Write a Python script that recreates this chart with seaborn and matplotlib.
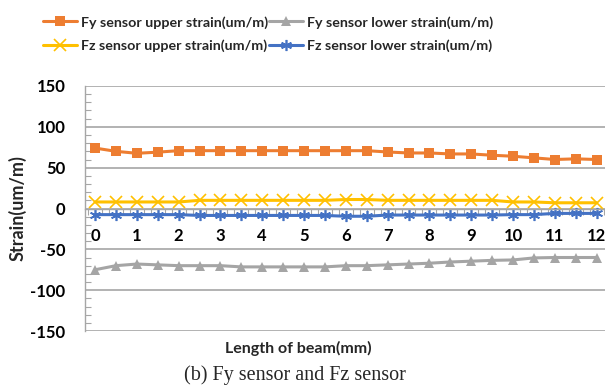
import numpy as np
import pandas as pd
import matplotlib
matplotlib.use("Agg")
import matplotlib.pyplot as plt
import seaborn as sns
from matplotlib.ticker import MultipleLocator

# ---- data ----
positions = [0, 0.5, 1, 1.5, 2, 2.5, 3, 3.5, 4, 4.5, 5, 5.5, 6, 6.5,
             7, 7.5, 8, 8.5, 9, 9.5, 10, 10.5, 11, 11.5, 12]
fy_upper = [74, 70, 67.6, 69, 70.8, 70.8, 70.8, 70.8, 70.8, 70.8, 70.8, 70.8, 70.8, 70.8,
            69.2, 68, 68, 66.8, 66.8, 65.2, 64, 62, 60, 60.8, 60]
fy_lower = [-75, -70, -68, -69, -70, -70, -70, -71.5, -71.5, -71.5, -71.5, -71.5, -70, -70,
            -69, -68, -67, -65.5, -64.5, -63.5, -63, -60.5, -60, -60, -60]
fz_upper = [8, 8, 8, 8, 8, 10, 10, 10, 10, 10, 10, 10, 11, 11,
            10, 10, 10, 10, 10, 10, 8, 8, 7, 7, 7]
fz_lower = [-7.5, -7.5, -7.5, -7.5, -7.5, -8.5, -8.5, -8.5, -8.5, -8.5, -8.5, -8.5, -9.5, -9.5,
            -8, -8, -8, -8, -8, -8, -7.5, -7.5, -6, -6, -6]
series_names = ["Fy sensor upper strain(um/m)", "Fy sensor lower strain(um/m)",
                "Fz sensor upper strain(um/m)", "Fz sensor lower strain(um/m)"]
x_tick_labels = [str(i) for i in range(13)]
y_ticks = [-150, -100, -50, 0, 50, 100, 150]

sns.set_theme(style="white")
plt.rcParams['font.family'] = ['Lato', 'DejaVu Sans']

fig = plt.figure(figsize=(6.05, 3.92), dpi=100)
ax = fig.add_axes([85/605, 1-331/392, 1-85/605, (331-86)/392])

colors = ["#ED7D31", "#A5A5A5", "#FFC000", "#4472C4"]
markers = ["s", "^", "x", (6, 2, 0)]
msizes = [7, 6.5, 8, 8]
all_vals = [fy_upper, fy_lower, fz_upper, fz_lower]
for name, vals, c, m, ms in zip(series_names, all_vals, colors, markers, msizes):
    df = pd.DataFrame({"x": positions, "y": vals})
    sns.lineplot(data=df, x="x", y="y", ax=ax, color=c, marker=m, markersize=ms,
                 markeredgecolor=c, markeredgewidth=1.2 if (m == "x" or isinstance(m, tuple)) else 0,
                 linewidth=2.2, label=name)

ax.set_xlim(-0.24, (605-95)/41.8)
ax.set_ylim(-150, 150)
ax.set_yticks(y_ticks)
ax.set_yticklabels([str(v) for v in y_ticks])
ax.yaxis.set_minor_locator(MultipleLocator(10))
ax.set_xticks(range(13))
ax.set_xticklabels(x_tick_labels)
ax.xaxis.set_minor_locator(MultipleLocator(1/6))

ax.grid(axis="y", which="major", color="#A6A6A6", linewidth=1.2)
ax.set_axisbelow(True)
for s in ["top", "right"]:
    ax.spines[s].set_visible(False)
ax.spines["left"].set_color("#A6A6A6")
ax.spines["left"].set_linewidth(1.0)
ax.spines["bottom"].set_position(("data", 0))
ax.spines["bottom"].set_color("#A6A6A6")
ax.spines["bottom"].set_linewidth(1.0)

ax.tick_params(axis="y", which="major", length=0, pad=14, labelsize=12, labelcolor="black")
ax.tick_params(axis="y", which="minor", left=True, direction="in", length=4, width=0.8, color="#A6A6A6")
ax.tick_params(axis="x", which="major", length=0, pad=14, labelsize=12, labelcolor="black")
ax.tick_params(axis="x", which="minor", bottom=True, direction="out", length=4, width=0.8, color="#A6A6A6")
for lab in ax.get_xticklabels() + ax.get_yticklabels():
    lab.set_fontweight("bold")

ax.set_xlabel("")
ax.set_ylabel("")
fig.text(298/605, 1-348/392, "Length of beam(mm)", ha="center", va="center",
         fontsize=11.5, fontweight="bold")
fig.text(17/605, 1-208/392, "Strain(um/m)", ha="center", va="center", rotation=90,
         fontsize=13, fontweight="bold")
fig.text(295/605, 1-375/392, "(b) Fy sensor and Fz sensor", ha="center", va="center",
         fontsize=14.5, family=["Liberation Serif", "DejaVu Serif"])

handles, labels = ax.get_legend_handles_labels()
if ax.legend_:
    ax.legend_.remove()
order = [0, 2, 1, 3]
fig.legend([handles[i] for i in order], [labels[i] for i in order], ncol=2,
           loc="upper left", bbox_to_anchor=(30/605, 1 - 3/392),
           frameon=False, prop={"weight": "bold", "size": 10.3},
           handlelength=2.4, columnspacing=0.05, handletextpad=0.25, labelspacing=0.75)

fig.savefig("out.png", dpi=100)
